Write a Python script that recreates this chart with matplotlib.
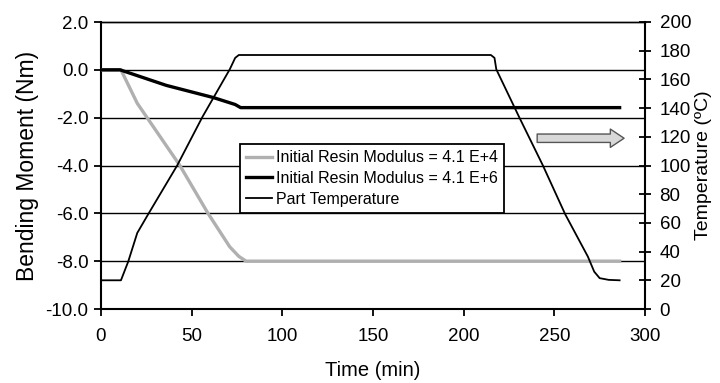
import matplotlib
matplotlib.use("Agg")
from matplotlib import pyplot as plt

plt.rcParams['font.family'] = ['Liberation Sans', 'DejaVu Sans']

# Part temperature (right axis, degC)
temp_time = [0, 11, 15, 20, 26, 42, 56, 71, 74, 76, 215, 217, 218, 230.5, 243.7, 256, 268.5, 272, 275, 280, 286]
temp_vals = [20, 20, 33, 53, 66, 100, 134, 167, 175, 177, 177, 175, 167, 134, 100, 66, 36.5, 26, 21.5, 20.3, 20]

# Initial resin modulus = 4.1 E+4 (grey)
low_time = [0, 11, 20, 43.5, 59, 71, 76, 80, 286]
low_vals = [0, 0, -1.4, -4.0, -6.0, -7.4, -7.8, -8.0, -8.0]

# Initial resin modulus = 4.1 E+6 (black)
high_time = [0, 10.5, 36, 62, 74, 77, 286]
high_vals = [0, 0, -0.65, -1.16, -1.45, -1.58, -1.58]

left_ticks = [2.0, 0.0, -2.0, -4.0, -6.0, -8.0, -10.0]
right_ticks = [0, 20, 40, 60, 80, 100, 120, 140, 160, 180, 200]
x_ticks = [0, 50, 100, 150, 200, 250, 300]


def main():
    fig = plt.figure(figsize=(7.2, 3.83), dpi=100)
    ax = fig.add_axes([101 / 720, 1 - 309 / 383, 544 / 720, 287 / 383])
    ax2 = ax.twinx()

    # horizontal grid at the left ticks
    for yv in left_ticks[1:-1]:
        ax.axhline(yv, color='black', lw=1.0, zorder=1)

    l1, = ax.plot(low_time, low_vals, color='#b0b0b0', lw=2.4, zorder=3,
                  label='Initial Resin Modulus = 4.1 E+4')
    l2, = ax.plot(high_time, high_vals, color='black', lw=2.4, zorder=3,
                  label='Initial Resin Modulus = 4.1 E+6')
    l3, = ax2.plot(temp_time, temp_vals, color='black', lw=1.3, zorder=3,
                   label='Part Temperature')

    ax.set_xlim(0, 300)
    ax.set_ylim(-10, 2)
    ax2.set_ylim(0, 200)
    ax.set_xticks(x_ticks)
    ax.set_yticks(left_ticks)
    ax.set_yticklabels(['%.1f' % v for v in left_ticks])
    ax2.set_yticks(right_ticks)

    ax.tick_params(axis='both', labelsize=13.5, direction='out', length=5, width=1.3, colors='black')
    ax.tick_params(axis='x', pad=9)
    ax.tick_params(axis='y', pad=4)
    ax2.tick_params(axis='y', labelsize=13.5, direction='inout', length=9, width=1.3, pad=6)

    for sp in ['left', 'bottom']:
        ax.spines[sp].set_linewidth(1.5)
    ax2.spines['right'].set_linewidth(1.5)
    ax2.spines['left'].set_visible(False)
    ax2.spines['bottom'].set_visible(False)
    ax.spines['right'].set_visible(False)
    ax.spines['top'].set_linewidth(1.0)
    ax2.spines['top'].set_linewidth(1.0)

    ax.set_xlabel('Time (min)', fontsize=14.5, labelpad=11)
    ax.set_ylabel('Bending Moment (Nm)', fontsize=16.5, labelpad=5)
    ax2.set_ylabel('Temperature (ºC)', fontsize=14, labelpad=3)

    # arrow pointing to the temperature axis
    ax2.annotate('', xy=(290, 119), xytext=(239, 119),
                 arrowprops=dict(arrowstyle='simple,head_length=0.9,head_width=1.2,tail_width=0.55',
                                 fc='#d8d8d8', ec='#555555', lw=1.0, mutation_scale=11))

    leg = ax2.legend(handles=[l1, l2, l3], loc='upper left',
                     bbox_to_anchor=(240 / 720, 1 - 144 / 383), bbox_transform=fig.transFigure,
                     fontsize=11.5, frameon=True, fancybox=False, handlelength=1.6,
                     handletextpad=0.25, borderaxespad=0, borderpad=0.4, labelspacing=0.35)
    leg.get_frame().set_edgecolor('black')
    leg.get_frame().set_linewidth(1.3)
    leg.get_frame().set_alpha(1.0)
    leg.set_zorder(5)

    fig.savefig('out.png', dpi=100)


if __name__ == "__main__":
    main()
